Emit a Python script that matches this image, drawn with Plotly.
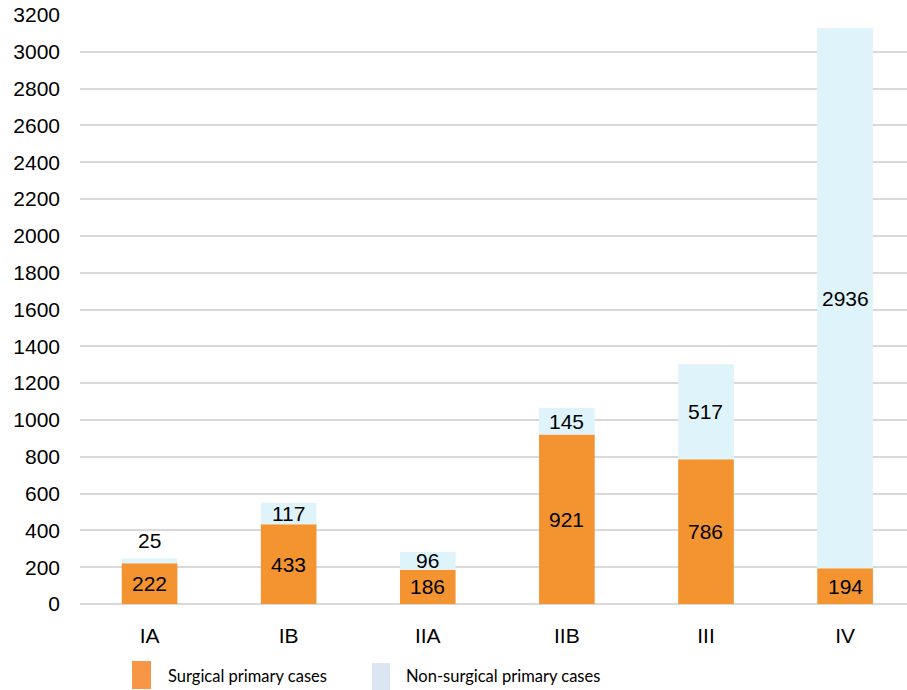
import plotly.graph_objects as go

categories = ["IA", "IB", "IIA", "IIB", "III", "IV"]
surgical = [222, 433, 186, 921, 786, 194]
non_surgical = [25, 117, 96, 145, 517, 2936]
y_ticks = list(range(0, 3201, 200))

W, H = 907, 690
L, R, T, B = 80, 0, 15, 86
PW, PH = W - L - R, H - T - B

def px_x(x):
    return (x - L) / PW

def px_y(y):
    return (H - B - y) / PH

fig = go.Figure()
fig.add_bar(x=categories, y=surgical, marker=dict(color="#F39431", line=dict(width=0)),
            width=0.4, name="Surgical primary cases", hoverinfo="y")
fig.add_bar(x=categories, y=non_surgical, base=surgical,
            marker=dict(color="#DFF3FA", line=dict(width=0)),
            width=0.4, name="Non-surgical primary cases", hoverinfo="y")

lab_font = dict(family="Liberation Sans, Arial", size=21, color="#000000")
for c, s, n in zip(categories, surgical, non_surgical):
    fig.add_annotation(x=c, y=s / 2, text=str(s), showarrow=False, font=lab_font)
    if n * PH / 3200 < 10:
        fig.add_annotation(x=c, y=s + n, text=str(n), showarrow=False, font=lab_font,
                           yanchor="bottom", yshift=5)
    else:
        fig.add_annotation(x=c, y=s + n / 2, text=str(n), showarrow=False, font=lab_font)

# manual legend
leg_font = dict(family="Lato, sans-serif", size=16.5, color="#000000")
fig.add_shape(type="rect", xref="paper", yref="paper",
              x0=px_x(132), x1=px_x(151), y0=px_y(689), y1=px_y(661),
              fillcolor="#F79646", line=dict(width=0))
fig.add_shape(type="rect", xref="paper", yref="paper",
              x0=px_x(372), x1=px_x(390), y0=px_y(690), y1=px_y(663),
              fillcolor="#DCE6F2", line=dict(width=0))
fig.add_annotation(xref="paper", yref="paper", x=px_x(166), y=px_y(676),
                   xanchor="left", yanchor="middle", showarrow=False,
                   text="Surgical primary cases", font=leg_font)
fig.add_annotation(xref="paper", yref="paper", x=px_x(404), y=px_y(676),
                   xanchor="left", yanchor="middle", showarrow=False,
                   text="Non-surgical primary cases", font=leg_font)

fig.update_layout(
    width=W, height=H,
    margin=dict(l=L, r=R, t=T, b=B, pad=0),
    barmode="overlay",
    showlegend=False,
    plot_bgcolor="white", paper_bgcolor="white",
    font=dict(family="Liberation Sans, Arial", size=21, color="#000000"),
)
fig.update_xaxes(range=[-0.5, 5.445], showgrid=False, showline=False, ticks="",
                 ticklabelstandoff=17, tickfont=dict(family="Liberation Sans, Arial", size=21),
                 fixedrange=True)
fig.update_yaxes(range=[0, 3200], tickvals=y_ticks, showgrid=True,
                 gridcolor="#D9D9D9", gridwidth=2, zeroline=True,
                 zerolinecolor="#D9D9D9", zerolinewidth=2, showline=False,
                 ticks="", ticklabelstandoff=19,
                 tickfont=dict(family="Liberation Sans, Arial", size=21), fixedrange=True)

fig.write_html("out.html", config={"displayModeBar": False},
               post_script="document.body.style.margin='0';document.body.style.padding='0';")
